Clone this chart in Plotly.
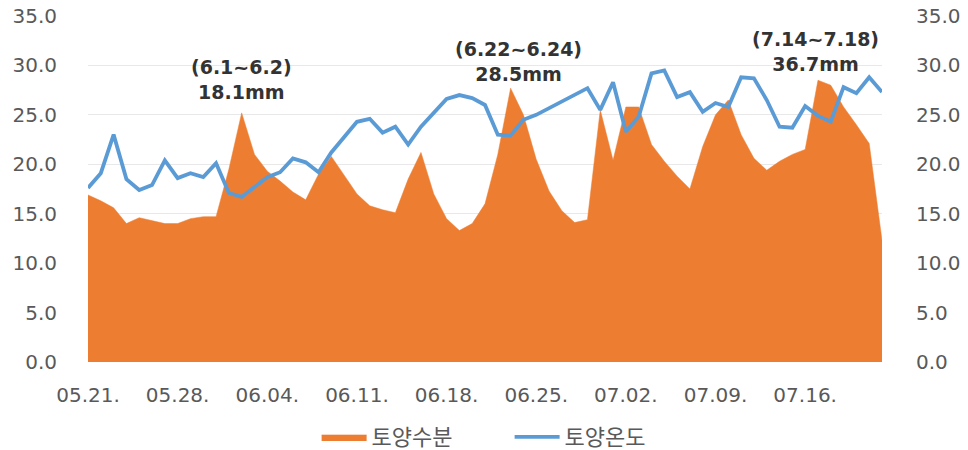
import pandas as pd
import plotly.graph_objects as go

start_date = "2023-05-21"
end_date = "2023-07-22"
dates = pd.date_range(start_date, end_date, freq="D")

soil_moisture = [
    16.9, 16.3, 15.6, 14.0, 14.6, 14.3, 14.0, 14.0, 14.5, 14.7,
    14.7, 19.5, 25.2, 21.0, 19.3, 18.3, 17.2, 16.4, 19.0, 20.8,
    18.9, 17.0, 15.8, 15.4, 15.1, 18.5, 21.2, 17.0, 14.5, 13.3,
    14.0, 16.0, 21.0, 27.7, 25.0, 20.5, 17.3, 15.3, 14.1, 14.4,
    25.5, 20.4, 25.8, 25.8, 22.0, 20.3, 18.8, 17.5, 21.8, 25.0,
    26.5, 23.0, 20.6, 19.4, 20.3, 21.0, 21.5, 28.5, 28.0, 25.8,
    24.0, 22.1, 12.3,
]
soil_temp = [
    17.6, 19.1, 23.0, 18.5, 17.4, 17.9, 20.4, 18.6, 19.1, 18.7,
    20.1, 17.1, 16.7, 17.7, 18.7, 19.2, 20.6, 20.2, 19.2, 21.2,
    22.7, 24.3, 24.6, 23.2, 23.8, 22.0, 23.8, 25.2, 26.6, 27.0,
    26.7, 26.0, 23.0, 22.9, 24.5, 25.0, 25.7, 26.3, 27.0, 27.7,
    25.5, 28.3, 23.3, 24.8, 29.2, 29.5, 26.8, 27.3, 25.3, 26.2,
    25.8, 28.8, 28.7, 26.5, 23.8, 23.7, 25.9, 24.9, 24.3, 27.8,
    27.2, 28.8, 27.3,
]
series_names = ["토양수분", "토양온도"]
y_ticks = [0, 5, 10, 15, 20, 25, 30, 35]

rain_labels = ["(6.1~6.2)<br>18.1mm", "(6.22~6.24)<br>28.5mm", "(7.14~7.18)<br>36.7mm"]
rain_dates = ["2023-06-02 00:00", "2023-06-23 14:00", "2023-07-16 19:00"]
rain_y = [28.6, 30.4, 31.4]

ORANGE = "#ED7D31"
BLUE = "#5B9BD5"
TICK_COLOR = "#595959"
CJK = "Noto Sans CJK KR"
NUM = "DejaVu Sans"

fig = go.Figure()
fig.add_trace(go.Scatter(
    x=dates, y=soil_moisture, name=series_names[0], mode="lines",
    fill="tozeroy", fillcolor=ORANGE, line=dict(color=ORANGE, width=0.5),
    yaxis="y",
))
fig.add_trace(go.Scatter(
    x=dates, y=soil_temp, name=series_names[1], mode="lines",
    line=dict(color=BLUE, width=3.8), yaxis="y2",
))

for txt, d, yv in zip(rain_labels, rain_dates, rain_y):
    fig.add_annotation(
        x=d, y=yv, xref="x", yref="y", text="<b>" + txt + "</b>",
        showarrow=False, yanchor="middle",
        font=dict(family=NUM, size=19, color="#333333"),
    )

fig.update_layout(
    width=968, height=450,
    margin=dict(l=88, r=86, t=16, b=88, autoexpand=False),
    plot_bgcolor="white", paper_bgcolor="white",
    font=dict(family=NUM, color=TICK_COLOR, size=20),
    xaxis=dict(
        type="date", range=[start_date, end_date],
        tick0=start_date, dtick=7 * 86400000, tickformat="%m.%d.",
        showgrid=False, zeroline=False, showline=False,
        ticks="", ticklabelstandoff=19,
        tickfont=dict(family=NUM, size=20, color=TICK_COLOR),
    ),
    yaxis=dict(
        range=[0, 35], tickvals=y_ticks, tickformat=".1f",
        showgrid=True, gridcolor="#E8E8E8", gridwidth=1,
        zeroline=False, showline=False, ticks="",
        ticklabelstandoff=30,
        tickfont=dict(family=NUM, size=20, color=TICK_COLOR),
    ),
    yaxis2=dict(
        range=[0, 35], tickvals=y_ticks, tickformat=".1f",
        overlaying="y", side="right", showgrid=False,
        zeroline=False, showline=False, ticks="",
        ticklabelstandoff=33,
        tickfont=dict(family=NUM, size=20, color=TICK_COLOR),
    ),
    legend=dict(
        orientation="h", x=0.531, xanchor="center", y=-0.217, yanchor="middle",
        font=dict(family=CJK, size=22, color=TICK_COLOR),
        itemwidth=45, entrywidth=133, tracegroupgap=0,
    ),
    showlegend=True,
)

fig.write_html(
    "out.html",
    config={"displayModeBar": False},
    post_script="document.body.style.margin='0';document.body.style.overflow='hidden';",
)
